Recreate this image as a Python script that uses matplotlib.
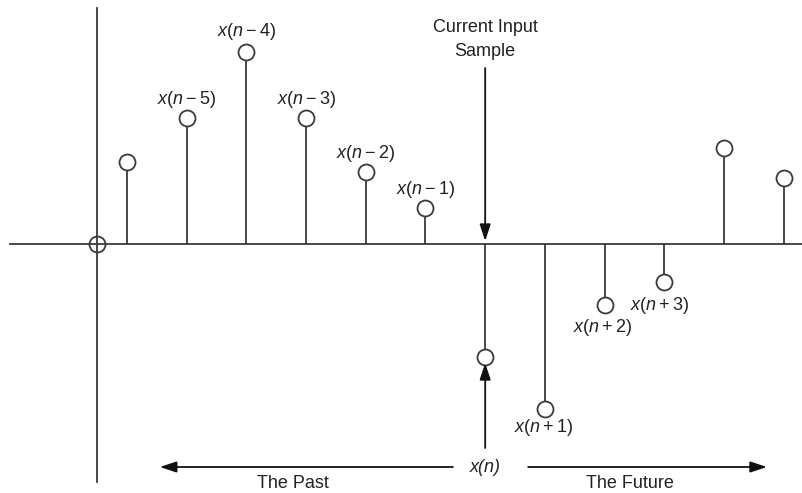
import matplotlib
matplotlib.use("Agg")
import matplotlib.pyplot as plt

plt.rcParams['font.family'] = ['Liberation Sans', 'DejaVu Sans']
plt.rcParams['mathtext.fontset'] = 'custom'
plt.rcParams['mathtext.rm'] = 'Liberation Sans'
plt.rcParams['mathtext.it'] = 'Liberation Sans:italic'

# sample index (1..12) and amplitude of each sample
samples = [1, 2, 3, 4, 5, 6, 7, 8, 9, 10, 11, 12]
values = [82, 126, 192, 126, 72, 36, -113, -165, -61, -38, 96, 66]
origin = 0.5

# labels: (text, x, y)
sample_labels = [
    (r'$x(n-5)$', 2, 145),
    (r'$x(n-4)$', 3, 212),
    (r'$x(n-3)$', 4, 145),
    (r'$x(n-2)$', 5, 91),
    (r'$x(n-1)$', 6, 55),
    (r'$x(n+1)$', 7.97, -184),
    (r'$x(n+2)$', 8.97, -83),
    (r'$x(n+3)$', 9.92, -61),
]

line_col = '#3a3a3a'
text_col = '#222222'
fs = 13

fig = plt.figure(figsize=(8.02, 4.93), dpi=100)
ax = fig.add_axes([0, 0, 1, 1])
ax.set_xlim(-1.127, 12.307)
ax.set_ylim(-249, 244)
ax.axis('off')

# axes lines
ax.plot([-0.96, 12.31], [0, 0], color=line_col, lw=1.3, zorder=1)
ax.plot([origin, origin], [-238, 236], color=line_col, lw=1.3, zorder=1)

# stems
ax.vlines(samples, 0, values, color=line_col, lw=1.3, zorder=2)
ax.plot(samples, values, 'o', ms=11.5, mfc='white', mec=line_col, mew=1.3, zorder=3)
ax.plot([origin], [0], 'o', ms=11.5, mfc='none', mec=line_col, mew=1.3, zorder=3)

for txt, x, y in sample_labels:
    ax.text(x, y, txt, ha='center', va='center', fontsize=fs, color=text_col)

arrow = dict(arrowstyle='-|>,head_length=1.0,head_width=0.33', mutation_scale=10,
             color='#111111', lw=1.3, shrinkA=0, shrinkB=0)

# current input sample arrow
ax.text(7, 217, 'Current Input', ha='center', va='center', fontsize=fs, color=text_col)
ax.text(7, 192, 'Sample', ha='center', va='center', fontsize=fs, color=text_col)
ax.annotate('', xy=(7, 3), xytext=(7, 176), arrowprops=arrow)

# x(n) arrow
ax.annotate('', xy=(7, -119), xytext=(7, -204), arrowprops=arrow)
ax.text(7, -224, 'x(n)', style='italic', ha='center', va='center', fontsize=fs,
        color=text_col)

# past / future
ax.annotate('', xy=(1.55, -223), xytext=(6.46, -223), arrowprops=arrow)
ax.annotate('', xy=(11.72, -223), xytext=(7.72, -223), arrowprops=arrow)
ax.text(3.78, -239, 'The Past', ha='center', va='center', fontsize=fs, color=text_col)
ax.text(9.43, -239, 'The Future', ha='center', va='center', fontsize=fs, color=text_col)

fig.savefig('out.png', dpi=100, facecolor='white')
